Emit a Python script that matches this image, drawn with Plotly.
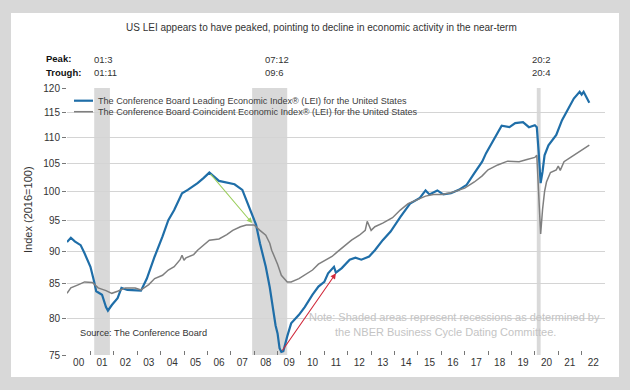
import math
import plotly.graph_objects as go

# ---------------- data ----------------
lei_dates = ["2000-01", "2000-03", "2000-05", "2000-08", "2000-10", "2001-01", "2001-03", "2001-04",
             "2001-07", "2001-09", "2001-10", "2001-12", "2002-03", "2002-05", "2002-08", "2002-12",
             "2003-03", "2003-06", "2003-10", "2004-02", "2004-05", "2004-08", "2004-12", "2005-03",
             "2005-08", "2005-11", "2006-02", "2006-07", "2006-12", "2007-03", "2007-07", "2007-09",
             "2007-12", "2008-02", "2008-04", "2008-07", "2008-09", "2008-10", "2008-12", "2009-01",
             "2009-02", "2009-03", "2009-04", "2009-06", "2009-08", "2009-12", "2010-03", "2010-07",
             "2010-10", "2011-01", "2011-03", "2011-06", "2011-07", "2011-10", "2012-02", "2012-05",
             "2012-08", "2012-12", "2013-03", "2013-07", "2013-11", "2014-04", "2014-09", "2015-02",
             "2015-05", "2015-07", "2015-11", "2016-02", "2016-06", "2016-10", "2017-02", "2017-06",
             "2017-10", "2017-12", "2018-04", "2018-08", "2018-12", "2019-03", "2019-07", "2019-10",
             "2020-01", "2020-02", "2020-03", "2020-04", "2020-05", "2020-06", "2020-08", "2020-12",
             "2021-03", "2021-07", "2021-09", "2021-12", "2022-01", "2022-02", "2022-03", "2022-05"]
lei_vals = [91.5, 92.2, 91.6, 91.0, 89.7, 87.6, 85.3, 83.9,
            83.4, 81.6, 81.1, 81.9, 82.9, 84.4, 84.1, 84.0,
            84.0, 85.8, 89.2, 92.4, 95.1, 96.8, 99.7, 100.3,
            101.5, 102.4, 103.4, 101.9, 101.5, 101.3, 100.3, 98.5,
            96.0, 94.3, 91.3, 87.6, 84.5, 82.5, 79.0, 77.9,
            75.9, 75.4, 75.5, 77.5, 79.3, 80.5, 81.6, 83.4,
            84.6, 85.3, 86.6, 87.6, 86.7, 87.4, 88.7, 89.0,
            88.7, 89.2, 90.2, 91.8, 93.2, 95.6, 97.9, 98.9,
            100.2, 99.5, 100.2, 99.5, 99.7, 100.3, 101.2, 103.3,
            105.4, 107.0, 109.5, 112.3, 112.0, 112.8, 113.0, 112.0,
            112.4, 112.0, 107.3, 101.5, 103.6, 106.6, 108.5, 110.5,
            113.4, 116.5, 117.8, 119.2, 118.6, 119.2, 118.5, 116.9]

cei_dates = ["2000-01", "2000-03", "2000-07", "2000-10", "2001-02", "2001-05", "2001-09", "2001-12",
             "2002-03", "2002-07", "2002-12", "2003-03", "2003-07", "2003-10", "2004-02", "2004-05",
             "2004-08", "2004-11", "2004-12", "2005-01", "2005-02", "2005-06", "2005-08", "2005-11",
             "2006-02", "2006-07", "2006-11", "2007-02", "2007-06", "2007-09", "2008-01", "2008-04",
             "2008-07", "2008-09", "2008-10", "2009-01", "2009-03", "2009-06", "2009-08", "2009-12",
             "2010-03", "2010-07", "2010-10", "2011-02", "2011-05", "2011-08", "2011-12", "2012-03",
             "2012-07", "2012-10", "2012-11", "2013-01", "2013-03", "2013-07", "2013-12", "2014-04",
             "2014-08", "2015-01", "2015-05", "2015-09", "2016-01", "2016-06", "2016-10", "2017-01",
             "2017-06", "2017-10", "2018-01", "2018-06", "2018-11", "2019-05", "2019-09", "2020-01",
             "2020-02", "2020-03", "2020-04", "2020-05", "2020-06", "2020-07", "2020-09", "2020-12",
             "2021-01", "2021-02", "2021-04", "2021-07", "2021-11", "2022-02", "2022-05"]
cei_vals = [83.6, 84.4, 84.9, 85.3, 85.2, 84.4, 84.0, 83.6,
            83.9, 84.4, 84.4, 84.1, 84.9, 85.8, 86.3, 87.1,
            87.6, 88.7, 89.4, 88.6, 89.0, 89.5, 90.2, 91.0,
            91.8, 92.0, 92.7, 93.4, 94.0, 94.3, 94.3, 93.4,
            92.6, 91.3, 90.2, 88.0, 86.3, 85.3, 85.3, 85.8,
            86.3, 87.1, 88.0, 88.7, 89.2, 90.0, 91.0, 91.8,
            92.6, 93.4, 94.9, 93.4, 94.0, 94.6, 95.5, 96.8,
            97.9, 98.7, 99.2, 99.5, 99.5, 99.8, 100.2, 100.6,
            101.7, 102.8, 103.9, 104.8, 105.5, 105.4, 105.8, 106.2,
            106.6, 99.4, 92.8, 96.9, 100.0, 101.7, 103.4, 103.9,
            104.6, 103.8, 105.4, 106.1, 107.0, 107.7, 108.5]

series_names = ["The Conference Board Leading Economic Index\u00ae (LEI) for the United States",
                "The Conference Board Coincident Economic Index\u00ae (LEI) for the United States"]

rec_starts = ["2001-03-01", "2007-12-01", "2020-02-01"]
rec_ends = ["2001-11-01", "2009-06-01", "2020-04-01"]
peak_labels = ["01:3", "07:12", "20:2"]
trough_labels = ["01:11", "09:6", "20:4"]

year_tick_mid = ["%d-07-01" % y for y in range(2000, 2023)]
year_tick_labels = ["%02d" % (y % 100) for y in range(2000, 2023)]
year_tick_bounds = ["%d-01-01" % y for y in range(2001, 2023)]
y_ticks = [75, 80, 85, 90, 95, 100, 105, 110, 115, 120]
y_grid = [80, 85, 90, 95, 100, 105, 110, 115]

green_arrow = {"from": ("2006-02-01", 103.4), "to": ("2007-12-01", 94.6)}
red_arrow = {"from": ("2009-03-01", 75.4), "to": ("2011-07-01", 86.6)}

# ---------------- layout helpers ----------------
W, H = 630, 390
L, R, T, B = 67, 25, 88, 35
PW, PH = W - L - R, H - T - B
FONT = "Liberation Sans, Arial, sans-serif"
TXT = "#333333"
LEI_C = "#1f6ea8"
CEI_C = "#7f7f7f"


def px(x):
    return (x - L) / PW


def py(y):
    return (H - B - y) / PH


fig = go.Figure()
fig.add_trace(go.Scatter(x=lei_dates, y=lei_vals, mode="lines", name=series_names[0],
                         line=dict(color=LEI_C, width=2.2)))
fig.add_trace(go.Scatter(x=cei_dates, y=cei_vals, mode="lines", name=series_names[1],
                         line=dict(color=CEI_C, width=1.5)))

shapes = []
shapes.append(dict(type="rect", xref="paper", yref="paper", x0=px(11), x1=px(619), y0=py(377), y1=py(13),
                   fillcolor="white", line=dict(width=0), layer="below"))
for s, e in zip(rec_starts, rec_ends):
    shapes.append(dict(type="rect", xref="x", yref="paper", x0=s, x1=e, y0=0, y1=1,
                       fillcolor="#d9d9d9", line=dict(width=0), layer="between"))
for i, col in enumerate([LEI_C, CEI_C]):
    yy = py(100.7 + 11 * i)
    shapes.append(dict(type="line", xref="paper", yref="paper", x0=px(74), x1=px(93), y0=yy, y1=yy,
                       line=dict(color=col, width=2.2 if i == 0 else 1.5), layer="above"))

ann = []
ann.append(dict(text="US LEI appears to have peaked, pointing to decline in economic activity in the near-term",
                xref="paper", yref="paper", x=px(321), y=py(27), xanchor="center", yanchor="middle",
                showarrow=False, font=dict(size=10, color=TXT, family=FONT)))
ann.append(dict(text="<b>Peak:</b>", xref="paper", yref="paper", x=px(44), y=py(59), xanchor="left",
                yanchor="middle", showarrow=False, font=dict(size=9.5, color="#111", family=FONT)))
ann.append(dict(text="<b>Trough:</b>", xref="paper", yref="paper", x=px(44), y=py(72), xanchor="left",
                yanchor="middle", showarrow=False, font=dict(size=9.5, color="#111", family=FONT)))
label_x = [92, 263, 530]
for lx, pk, tr in zip(label_x, peak_labels, trough_labels):
    ann.append(dict(text=pk, xref="paper", yref="paper", x=px(lx), y=py(60), xanchor="left", yanchor="middle",
                    showarrow=False, font=dict(size=9.5, color=TXT, family=FONT)))
    ann.append(dict(text=tr, xref="paper", yref="paper", x=px(lx), y=py(72), xanchor="left", yanchor="middle",
                    showarrow=False, font=dict(size=9.5, color=TXT, family=FONT)))
for i, nm in enumerate(series_names):
    ann.append(dict(text=nm, xref="paper", yref="paper", x=px(96), y=py(100.7 + 11 * i), xanchor="left",
                    yanchor="middle", showarrow=False, font=dict(size=9.1, color="#404040", family=FONT)))
ann.append(dict(text="Index (2016=100)", xref="paper", yref="paper", x=px(28), y=py(210), textangle=-90,
                xanchor="center", yanchor="middle", showarrow=False, font=dict(size=11, color=TXT, family=FONT)))
ann.append(dict(text="Source: The Conference Board", xref="paper", yref="paper", x=px(78), y=py(333),
                xanchor="left", yanchor="middle", showarrow=False, font=dict(size=9.2, color=TXT, family=FONT)))
ann.append(dict(text="Note: Shaded areas represent recessions as determined by", xref="paper", yref="paper",
                x=px(454), y=py(317), xanchor="center", yanchor="middle", showarrow=False,
                font=dict(size=11, color="#c4c4c4", family=FONT)))
ann.append(dict(text="the NBER Business Cycle Dating Committee.", xref="paper", yref="paper",
                x=px(445), y=py(332), xanchor="center", yanchor="middle", showarrow=False,
                font=dict(size=11, color="#c4c4c4", family=FONT)))
for arr, col in [(green_arrow, "#9ccf5e"), (red_arrow, "#d0283a")]:
    ann.append(dict(text="", x=arr["to"][0], y=math.log10(arr["to"][1]), ax=arr["from"][0],
                    ay=math.log10(arr["from"][1]), xref="x", yref="y", axref="x", ayref="y",
                    showarrow=True, arrowhead=2, arrowsize=1, arrowwidth=1.1, arrowcolor=col))

fig.update_layout(
    width=W, height=H, margin=dict(l=L, r=R, t=T, b=B),
    paper_bgcolor="#d8d8d8", plot_bgcolor="white",
    showlegend=False, shapes=shapes, annotations=ann,
    font=dict(family=FONT, size=10, color=TXT),
    xaxis=dict(type="date", range=["2000-01-01", "2023-01-01"], tickmode="array",
               tickvals=year_tick_mid, ticktext=year_tick_labels, ticks="", showgrid=False,
               showline=False, zeroline=False, tickfont=dict(size=10, color=TXT),
               minor=dict(tickmode="array", tickvals=year_tick_bounds, ticks="inside", ticklen=4,
                          tickcolor="#777777", showgrid=False)),
    yaxis=dict(type="log", range=[math.log10(75), math.log10(120)], tickmode="array",
               tickvals=y_ticks, ticktext=[str(v) for v in y_ticks], ticks="outside", ticklen=4,
               tickcolor="#777777", showgrid=False, showline=False, zeroline=False,
               tickfont=dict(size=10, color=TXT),
               minor=dict(tickmode="array", tickvals=y_grid, ticks="", showgrid=True,
                          gridcolor="#d4d4d4", gridwidth=1)),
)

fig.write_html("out.html", config={"displayModeBar": False},
               post_script="document.body.style.margin='0';document.body.style.overflow='hidden';")
